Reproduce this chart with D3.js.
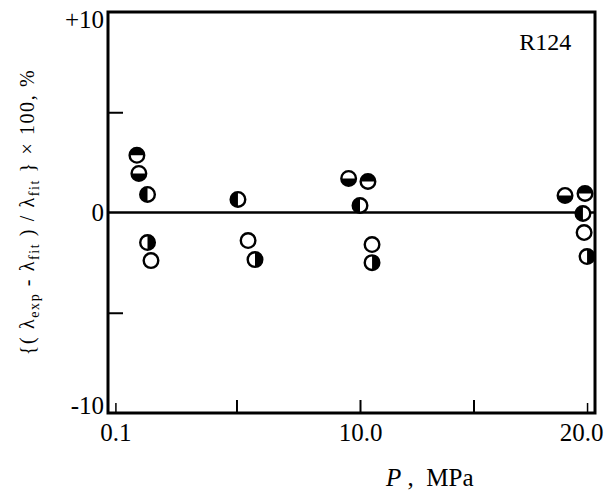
<!DOCTYPE html>
<html>
<head>
<meta charset="utf-8">
<script src="https://cdn.jsdelivr.net/npm/d3@7"></script>
<style>
  body { margin: 0; background: #fff; }
  svg { display: block; font-family: "Liberation Serif", "DejaVu Serif", serif; }
</style>
</head>
<body>
<div id="wrapper"></div>
<script>
// pressure (MPa) and deviation (%) per symbol type
const pTop = [0.97, 10.35, 19.91];
const dTop = [2.85, 1.55, 0.95];
const pBottom = [1.05, 9.54, 19.03];
const dBottom = [1.95, 1.7, 0.85];
const pLeft = [1.4, 5.06, 10.0, 19.82];
const dLeft = [0.9, 0.65, 0.35, -0.05];
const pOpen = [1.54, 5.47, 10.53, 19.87];
const dOpen = [-2.4, -1.4, -1.6, -1.0];
const pRight = [1.4, 5.75, 10.53, 20.0];
const dRight = [-1.5, -2.35, -2.5, -2.2];

const xTickValues = [0.1, 10, 20];
const xTickLabels = ["0.1", "10.0", "20.0"];
const xMinorTicks = [5, 10, 15];
const xEndTicks = [0.1, 20];
const yTickValues = [10, 0, -10];
const yTickLabels = ["+10", "0", "-10"];
const yMinorTicks = [5, -5];

const dimension = {
    width: 604,
    height: 493,
    margin: { top: 12, right: 9, bottom: 80, left: 108 },
}
dimension.boundedWidth = dimension.width - dimension.margin.left - dimension.margin.right
dimension.boundedHeight = dimension.height - dimension.margin.top - dimension.margin.bottom

const wrapper = d3.select("#wrapper")
    .append("svg")
    .attr("width", dimension.width)
    .attr("height", dimension.height);

const bounds = wrapper.append("g")
    .attr("transform", `translate(${dimension.margin.left},${dimension.margin.top})`);

// the scanned axis is not quite linear, so use a piecewise scale
const xScaler = d3.scaleLinear()
    .domain([-0.2, 10, 20.35])
    .range([0, 252, dimension.boundedWidth]);

const yScaler = d3.scaleLinear()
    .domain([-10, 10])
    .range([dimension.boundedHeight, 0]);

// minor ticks pointing inward
bounds.append("g")
    .attr("transform", `translate(0,${dimension.boundedHeight})`)
    .call(d3.axisBottom(xScaler).tickValues(xMinorTicks).tickSize(-13).tickFormat(""))
    .call(g => g.select(".domain").remove())
    .call(g => g.selectAll("line").attr("stroke-width", 2));

bounds.append("g")
    .attr("transform", `translate(0,${dimension.boundedHeight})`)
    .call(d3.axisBottom(xScaler).tickValues(xEndTicks).tickSize(-10).tickFormat(""))
    .call(g => g.select(".domain").remove())
    .call(g => g.selectAll("line").attr("stroke-width", 1.5));

bounds.append("g")
    .call(d3.axisLeft(yScaler).tickValues(yMinorTicks).tickSize(-15).tickFormat(""))
    .call(g => g.select(".domain").remove())
    .call(g => g.selectAll("line").attr("stroke-width", 2));

// tick labels
const xAxis = bounds.append("g")
    .attr("transform", `translate(0,${dimension.boundedHeight})`)
    .call(d3.axisBottom(xScaler).tickValues(xTickValues).tickSize(0).tickPadding(10)
        .tickFormat((d, i) => xTickLabels[i]));
xAxis.select(".domain").remove();
xAxis.selectAll("text")
    .attr("font-size", "25px")
    .attr("font-family", "Liberation Serif")
    .attr("fill", "#000")
    .attr("dx", (d, i) => i == 2 ? -6 : 0);

const yAxis = bounds.append("g")
    .call(d3.axisLeft(yScaler).tickValues(yTickValues).tickSize(0).tickPadding(4)
        .tickFormat((d, i) => yTickLabels[i]));
yAxis.select(".domain").remove();
yAxis.selectAll("text")
    .attr("font-size", "25px")
    .attr("font-family", "Liberation Serif")
    .attr("fill", "#000")
    .attr("dy", d => d == 10 ? "0.6em" : d == -10 ? "0.0em" : "0.3em");

// zero line
bounds.append("line")
    .attr("x1", 0)
    .attr("x2", dimension.boundedWidth)
    .attr("y1", yScaler(0))
    .attr("y2", yScaler(0))
    .attr("stroke", "#000")
    .attr("stroke-width", 2.5);

// frame
bounds.append("rect")
    .attr("width", dimension.boundedWidth)
    .attr("height", dimension.boundedHeight)
    .attr("fill", "none")
    .attr("stroke", "#000")
    .attr("stroke-width", 3);

// symbols
const r = 7.3;
const halfAngles = {
    top: [-Math.PI / 2, Math.PI / 2],
    right: [0, Math.PI],
    bottom: [Math.PI / 2, Math.PI * 1.5],
    left: [Math.PI, Math.PI * 2],
    open: null,
};
const series = [
    { kind: "top", p: pTop, d: dTop },
    { kind: "bottom", p: pBottom, d: dBottom },
    { kind: "left", p: pLeft, d: dLeft },
    { kind: "open", p: pOpen, d: dOpen },
    { kind: "right", p: pRight, d: dRight },
];
const arcGen = d3.arc().innerRadius(0).outerRadius(r);

series.forEach(s => {
    const pts = s.p.map((p, i) => ({ p: p, d: s.d[i] }));
    const g = bounds.append("g").selectAll("g")
        .data(pts)
        .enter()
        .append("g")
        .attr("transform", d => `translate(${xScaler(d.p)},${yScaler(d.d)})`);
    g.append("circle")
        .attr("r", r)
        .attr("fill", "#fff")
        .attr("stroke", "none");
    if (halfAngles[s.kind]) {
        g.append("path")
            .attr("d", arcGen({ startAngle: halfAngles[s.kind][0], endAngle: halfAngles[s.kind][1] }))
            .attr("fill", "#000");
    }
    g.append("circle")
        .attr("r", r)
        .attr("fill", "none")
        .attr("stroke", "#000")
        .attr("stroke-width", 2.4);
});

// R124 label
bounds.append("text")
    .attr("x", xScaler(19.3))
    .attr("y", 38)
    .attr("text-anchor", "end")
    .attr("font-size", "24px")
    .text("R124");

// x label
const xLabel = wrapper.append("text")
    .attr("x", 386)
    .attr("y", 486)
    .attr("font-size", "25px");
xLabel.append("tspan").attr("font-style", "italic").text("P");
xLabel.append("tspan").text(" ,\u00a0\u00a0MPa");

// y label
const yLabel = wrapper.append("text")
    .attr("transform", "translate(34,212) rotate(-90)")
    .attr("text-anchor", "middle")
    .attr("font-size", "20px")
    .attr("letter-spacing", "1.6px");
yLabel.append("tspan").text("{( \u03bb");
yLabel.append("tspan").attr("font-size", "14px").attr("dy", 5).text("exp");
yLabel.append("tspan").attr("dy", -5).text(" - \u03bb");
yLabel.append("tspan").attr("font-size", "14px").attr("dy", 5).text("fit");
yLabel.append("tspan").attr("dy", -5).text(" ) / \u03bb");
yLabel.append("tspan").attr("font-size", "14px").attr("dy", 5).text("fit");
yLabel.append("tspan").attr("dy", -5).text(" } \u00d7 100,  %");
</script>
</body>
</html>
